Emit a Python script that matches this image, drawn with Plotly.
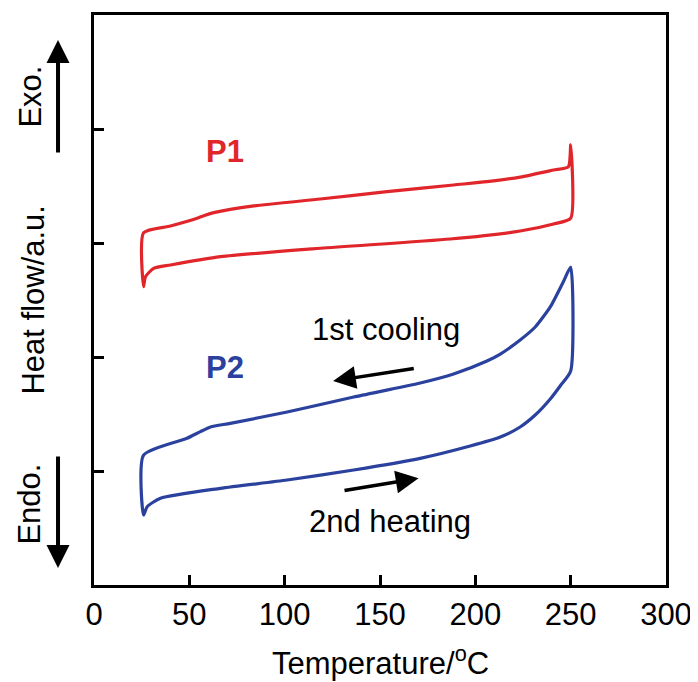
import plotly.graph_objects as go

# ---- data ----
p1_cool_T = [250, 248.8, 241.0, 223.5, 206.1, 188.6, 153.7, 118.7, 83.8, 62.8, 57.5, 54.1, 40.1, 26]
p1_cool_hf = [3.86, 3.669, 3.640, 3.578, 3.538, 3.509, 3.450, 3.386, 3.325, 3.266, 3.239, 3.217, 3.149, 3.090]
p1_heat_T = [26, 27.0, 31.3, 40.1, 66.3, 118.7, 186.8, 223.5, 241.0, 250]
p1_heat_hf = [2.617, 2.704, 2.778, 2.807, 2.880, 2.954, 3.035, 3.105, 3.167, 3.217]

p2_cool_T = [250, 246.1, 239.3, 231.4, 223.5, 213.1, 206.1, 188.6, 171.1, 136.2, 101.3, 71.5, 61.1, 55.8, 48.8, 26]
p2_cool_hf = [2.789, 2.658, 2.439, 2.263, 2.149, 2.026, 1.965, 1.851, 1.772, 1.649, 1.518, 1.418, 1.386, 1.345, 1.287, 1.140]
p2_heat_T = [26, 27.9, 34.9, 66.3, 101.3, 136.2, 171.1, 197.3, 213.1, 223.5, 231.4, 239.3, 244.5, 250]
p2_heat_hf = [0.614, 0.687, 0.761, 0.848, 0.921, 1.009, 1.111, 1.219, 1.298, 1.386, 1.491, 1.632, 1.746, 1.877]

x_ticks = [0, 50, 100, 150, 200, 250, 300]
y_ticks = [1, 2, 3, 4]

RED = "#E1262B"
BLUE = "#2B419E"
FONT = "Liberation Sans, Arial, sans-serif"
FS = 31

fig = go.Figure()
for cT, cH, hT, hH, col in [
    (p1_cool_T, p1_cool_hf, p1_heat_T, p1_heat_hf, RED),
    (p2_cool_T, p2_cool_hf, p2_heat_T, p2_heat_hf, BLUE),
]:
    fig.add_trace(go.Scatter(
        x=cT + hT + [cT[0]], y=cH + hH + [cH[0]],
        mode="lines", line=dict(color=col, width=3.2, shape="spline", smoothing=0.6),
        showlegend=False, hoverinfo="skip"))

C = dict(xanchor="center", yanchor="middle", showarrow=False)
ann = []
ann.append(dict(x=68.9, y=3.80, text="<b>P1</b>", font=dict(size=FS, color=RED), **C))
ann.append(dict(x=68.9, y=1.91, text="<b>P2</b>", font=dict(size=FS, color=BLUE), **C))
ann.append(dict(x=153.3, y=2.237, text="1st cooling", font=dict(size=FS, color="black"), **C))
ann.append(dict(x=155.4, y=0.561, text="2nd heating", font=dict(size=FS, color="black"), **C))
ann.append(dict(x=125.4, y=1.789, ax=168.5, ay=1.901, axref="x", ayref="y", text="",
                showarrow=True, arrowhead=2, arrowwidth=3.5, arrowsize=1.3, arrowcolor="black"))
ann.append(dict(x=170.2, y=0.936, ax=130.6, ay=0.827, axref="x", ayref="y", text="",
                showarrow=True, arrowhead=2, arrowwidth=3.5, arrowsize=1.3, arrowcolor="black"))
ann.append(dict(xref="paper", yref="paper", x=-0.0629, y=0.956, ax=0, ay=114, text="",
                showarrow=True, arrowhead=2, arrowwidth=4, arrowsize=1.15, arrowcolor="black"))
ann.append(dict(xref="paper", yref="paper", x=-0.0629, y=0.0298, ax=0, ay=-113, text="",
                showarrow=True, arrowhead=2, arrowwidth=4, arrowsize=1.15, arrowcolor="black"))
ann.append(dict(xref="paper", yref="paper", x=-0.111, y=0.856, text="Exo.", textangle=-90,
                font=dict(size=FS, color="black"), **C))
ann.append(dict(xref="paper", yref="paper", x=-0.1144, y=0.142, text="Endo.", textangle=-90,
                font=dict(size=FS, color="black"), **C))
ann.append(dict(xref="paper", yref="paper", x=-0.1074, y=0.5, text="Heat flow/a.u.", textangle=-90,
                font=dict(size=FS, color="black"), **C))
ann.append(dict(xref="paper", yref="paper", x=0.5, y=-0.133, text="Temperature/<sup>o</sup>C",
                font=dict(size=FS, color="black"), **C))

# page body has an 8px margin, so the figure is 8px smaller than the window
fig.update_layout(
    width=690, height=674,
    margin=dict(l=85.5, r=32, t=7, b=97, autoexpand=False),
    paper_bgcolor="white", plot_bgcolor="white",
    font=dict(family=FONT, size=FS, color="black"),
    annotations=ann,
)
fig.update_xaxes(range=[0, 300], tickvals=x_ticks, ticks="inside", ticklen=10, tickwidth=3,
                 tickcolor="black", showline=True, linewidth=3, linecolor="black", mirror=True,
                 showgrid=False, zeroline=False, tickfont=dict(size=FS))
fig.update_yaxes(range=[0, 5], tickvals=y_ticks, showticklabels=False, ticks="inside", ticklen=10,
                 tickwidth=3, tickcolor="black", showline=True, linewidth=3, linecolor="black",
                 mirror=True, showgrid=False, zeroline=False)

fig.write_html("out.html")
